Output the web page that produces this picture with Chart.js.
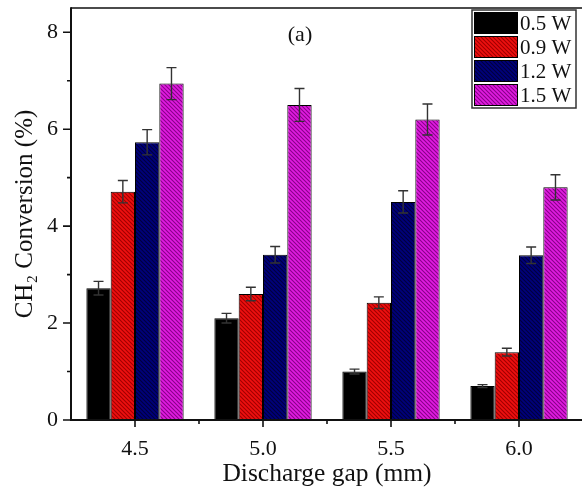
<!DOCTYPE html>
<html><head><meta charset="utf-8">
<script src="https://cdn.jsdelivr.net/npm/chart.js@4"></script>
<style>html,body{margin:0;padding:0;overflow:hidden;background:#fff}</style>
</head><body>
<canvas id="c" width="590" height="495"></canvas>
<script>
const gaps = ['4.5', '5.0', '5.5', '6.0'];
const powers = ['0.5 W', '0.9 W', '1.2 W', '1.5 W'];
const conv05 = [2.72, 2.10, 1.00, 0.70];
const conv09 = [4.71, 2.60, 2.42, 1.40];
const conv12 = [5.73, 3.41, 4.50, 3.40];
const conv15 = [6.94, 6.50, 6.20, 4.80];
const err05 = [0.14, 0.10, 0.05, 0.03];
const err09 = [0.23, 0.14, 0.12, 0.08];
const err12 = [0.26, 0.17, 0.23, 0.17];
const err15 = [0.33, 0.34, 0.32, 0.26];

const SERIF = "'Liberation Serif', 'Times New Roman', serif";

function hatch(base, stripe) {
  if (!stripe) return base;
  const c = document.createElement('canvas');
  c.width = 4; c.height = 4;
  const g = c.getContext('2d');
  g.fillStyle = base; g.fillRect(0, 0, 4, 4);
  g.strokeStyle = stripe; g.lineWidth = 1.1;
  g.beginPath();
  g.moveTo(-1, -1); g.lineTo(5, 5);
  g.moveTo(-1, 3); g.lineTo(1, 5);
  g.moveTo(3, -1); g.lineTo(5, 1);
  g.stroke();
  return g.createPattern(c, 'repeat');
}

const fills = [
  hatch('#000000', null),
  hatch('#ee1010', '#a00000'),
  hatch('#00007c', '#00003c'),
  hatch('#e01ce0', '#8a008a')
];
const values = [conv05, conv09, conv12, conv15];
const errors = [err05, err09, err12, err15];

const datasets = values.map((v, i) => ({
  label: powers[i],
  data: v,
  errs: errors[i],
  backgroundColor: fills[i],
  borderColor: '#000',
  borderWidth: 1,
  borderSkipped: 'bottom',
  categoryPercentage: 0.76,
  barPercentage: 1.0
}));

const decor = {
  id: 'decor',
  afterDatasetsDraw(chart) {
    const ctx = chart.ctx, y = chart.scales.y;
    ctx.save();
    ctx.strokeStyle = '#333'; ctx.lineWidth = 1.4;
    chart.data.datasets.forEach((ds, di) => {
      const meta = chart.getDatasetMeta(di);
      meta.data.forEach((bar, i) => {
        const v = ds.data[i], e = ds.errs[i];
        const yt = y.getPixelForValue(v + e), yb = y.getPixelForValue(v - e);
        ctx.beginPath();
        ctx.moveTo(bar.x, yt); ctx.lineTo(bar.x, yb);
        ctx.moveTo(bar.x - 5, yt); ctx.lineTo(bar.x + 5, yt);
        ctx.moveTo(bar.x - 5, yb); ctx.lineTo(bar.x + 5, yb);
        ctx.stroke();
      });
    });
    ctx.restore();
  },
  afterDraw(chart) {
    const ctx = chart.ctx, a = chart.chartArea, x = chart.scales.x, y = chart.scales.y;
    ctx.save();
    ctx.strokeStyle = '#111';
    ctx.lineWidth = 1.5;
    ctx.beginPath();
    ctx.moveTo(a.left, a.top); ctx.lineTo(a.right, a.top); ctx.lineTo(a.right, a.bottom);
    ctx.stroke();
    ctx.lineWidth = 2;
    ctx.beginPath();
    ctx.moveTo(a.left, a.top - 0.75); ctx.lineTo(a.left, a.bottom);
    ctx.lineTo(a.right, a.bottom);
    ctx.stroke();
    ctx.lineWidth = 1.6;
    ctx.beginPath();
    const yt = y.ticks.map(t => t.value);
    yt.forEach((v, i) => {
      const p = y.getPixelForValue(v);
      ctx.moveTo(a.left - 8, p); ctx.lineTo(a.left, p);
      if (i < yt.length - 1) {
        const m = y.getPixelForValue((v + yt[i + 1]) / 2);
        ctx.moveTo(a.left - 4, m); ctx.lineTo(a.left, m);
      }
    });
    const xs = x.ticks.map((t, i) => x.getPixelForTick(i));
    xs.forEach((p, i) => {
      ctx.moveTo(p, a.bottom); ctx.lineTo(p, a.bottom + 7);
      if (i < xs.length - 1) {
        const m = (p + xs[i + 1]) / 2;
        ctx.moveTo(m, a.bottom); ctx.lineTo(m, a.bottom + 4);
      }
    });
    ctx.stroke();
    ctx.fillStyle = '#111';
    ctx.font = '22px ' + SERIF;
    ctx.textAlign = 'center'; ctx.textBaseline = 'middle';
    ctx.fillText('(a)', 300, 35);
    const L = 472, T = 10, R = 576, B = 108, rowH = 24;
    ctx.fillStyle = '#fff';
    ctx.fillRect(L, T, R - L, B - T);
    ctx.lineWidth = 1.5; ctx.strokeStyle = '#333';
    ctx.strokeRect(L, T, R - L, B - T);
    ctx.font = '21px ' + SERIF;
    ctx.textAlign = 'left'; ctx.textBaseline = 'middle';
    chart.data.datasets.forEach((ds, i) => {
      const ty = T + 2 + i * rowH;
      ctx.fillStyle = ds.backgroundColor;
      ctx.fillRect(474, ty, 44, 22);
      ctx.lineWidth = 1; ctx.strokeStyle = '#000';
      ctx.strokeRect(474.5, ty + 0.5, 43, 21);
      ctx.fillStyle = '#111';
      ctx.fillText(ds.label, 520, ty + 12);
    });
    ctx.restore();
  }
};

new Chart(document.getElementById('c'), {
  type: 'bar',
  data: { labels: gaps, datasets },
  options: {
    responsive: false,
    animation: false,
    devicePixelRatio: 1,
    layout: { padding: { top: 8, right: 7, left: 0, bottom: 0 } },
    plugins: { legend: { display: false }, tooltip: { enabled: false } },
    scales: {
      x: {
        grid: { display: false, drawTicks: false },
        border: { display: false },
        ticks: { color: '#111', font: { family: SERIF, size: 22 }, padding: 16, maxRotation: 0 },
        title: { display: true, text: 'Discharge gap (mm)', color: '#111',
                 font: { family: SERIF, size: 25.5 }, padding: { top: 0, bottom: 5 } },
        afterFit(s) { s.height = 75; s.paddingLeft = 0; s.paddingRight = 0; }
      },
      y: {
        min: 0, max: 8.5,
        grid: { display: false, drawTicks: false },
        border: { display: false },
        ticks: { stepSize: 2, includeBounds: false, color: '#111',
                 font: { family: SERIF, size: 22 }, padding: 13 },
        title: { display: true, text: 'CH₂ Conversion (%)', color: '#111',
                 font: { family: SERIF, size: 25 }, padding: { top: 10, bottom: 0 } },
        afterFit(s) { s.width = 71; s.paddingTop = 0; s.paddingBottom = 0; }
      }
    }
  },
  plugins: [decor]
});
</script>
</body></html>
